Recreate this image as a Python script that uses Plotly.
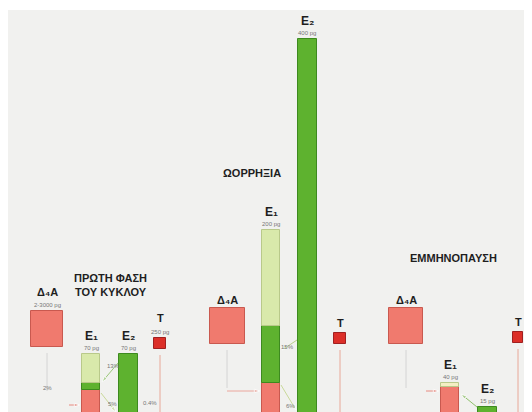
import plotly.graph_objects as go

# --- data (pg) ---
phases = ["ΠΡΩΤΗ ΦΑΣΗ<br>ΤΟΥ ΚΥΚΛΟΥ", "ΩΟΡΡΗΞΙΑ", "ΕΜΜΗΝΟΠΑΥΣΗ"]
e1_total = [70, 200, 40]
e1_from_d4a = [32, 40, 36]   # red part
e1_from_e2 = [8, 60, 0]      # dark green part
e1_other = [30, 100, 4]      # light part
e2_total = [70, 400, 15]
e1_labels = ["70 pg", "200 pg", "40 pg"]
e2_labels = ["70 pg", "400 pg", "15 pg"]
d4a_labels = ["2-3000 pg", "", ""]
t_labels = ["250 pg", "", ""]
pct_labels = [["13%", "5%", "2%", "0.4%"], ["15%", "6%", "", ""], ["", "", "", ""]]

# --- layout (page pixels, screen coords) ---
W, H = 532, 412
OFF = 8  # page body margin
e1_x = [91, 271, 450]
e2_x = [128, 307, 487]
d4a_x = [47, 227, 406]
t_x = [160, 340, 518]
sq_top = [311, 308, 308]
t_top = [338, 333, 332]
title_pos = [(110, 285), (252, 173), (453, 258)]
bar_w = 18
px_per_pg = 0.955
base_px = 421

RED = "#f07a6e"
RED_EDGE = "#c9594f"
LIGHT = "#d9e9ab"
LIGHT_E1_3 = "#f4efc4"
GREEN = "#5eb22f"
GREEN_EDGE = "#3d8a1f"
TRED = "#dc2f28"
GREY_TXT = "#777777"

y_lo = (base_px - H) / px_per_pg
y_hi = (base_px - OFF) / px_per_pg

fig = go.Figure()

# E1 stacked columns
light_cols = [LIGHT, LIGHT, LIGHT_E1_3]
for i in range(3):
    parts = [(e1_from_d4a[i], RED, RED_EDGE), (e1_from_e2[i], GREEN, GREEN_EDGE),
             (e1_other[i], light_cols[i], "#b9c98a")]
    b = 0
    for v, c, ec in parts:
        if v > 0:
            fig.add_trace(go.Bar(x=[e1_x[i]], y=[v], base=[b], width=bar_w,
                                 marker=dict(color=c, line=dict(color=ec, width=1)),
                                 showlegend=False, hoverinfo="skip"))
        b += v
    # E2 column
    fig.add_trace(go.Bar(x=[e2_x[i]], y=[e2_total[i]], base=[0], width=bar_w + 1,
                         marker=dict(color=GREEN, line=dict(color=GREEN_EDGE, width=1)),
                         showlegend=False, hoverinfo="skip"))

# D4A and T squares (on page-pixel axis)
fig.add_trace(go.Bar(x=d4a_x, y=[36] * 3, base=sq_top, width=[32, 35, 34], yaxis="y2",
                     marker=dict(color=RED, line=dict(color=RED_EDGE, width=1)),
                     showlegend=False, hoverinfo="skip"))
fig.add_trace(go.Bar(x=t_x, y=[11] * 3, base=t_top, width=[12, 12, 10], yaxis="y2",
                     marker=dict(color=TRED, line=dict(color="#a02020", width=1)),
                     showlegend=False, hoverinfo="skip"))

# connector lines
for i in range(3):
    fig.add_trace(go.Scatter(x=[t_x[i], t_x[i]], y=[t_top[i] + 17, H], yaxis="y2", mode="lines",
                             line=dict(color="#e8a898", width=1), showlegend=False, hoverinfo="skip"))
    fig.add_trace(go.Scatter(x=[d4a_x[i], d4a_x[i]], y=[sq_top[i] + 42, sq_top[i] + 80], yaxis="y2",
                             mode="lines", line=dict(color="#d4d4d4", width=1),
                             showlegend=False, hoverinfo="skip"))

# E2 -> E1 and D4A -> E1 arrows
arrows = [
    (e2_x[0] - 10, 363, e1_x[0] + 11, 382, "#9bc77a"),
    (e1_x[0] + 10, 393, e2_x[0] - 12, 412, "#c9d99a"),
    (e2_x[1] - 10, 340, e1_x[1] + 11, 350, "#b7cf8a"),
    (e1_x[1] + 10, 385, e2_x[1] - 11, 410, "#c9d99a"),
    (e2_x[2] - 10, 407, e1_x[2] + 11, 394, "#8fc06a"),
    (d4a_x[0] + 22, 405, e1_x[0] - 11, 405, "#e88a80"),
    (d4a_x[1] + 0, 391, e1_x[1] - 11, 391, "#eba69c"),
    (d4a_x[2] + 20, 391, e1_x[2] - 11, 391, "#e88a80"),
]
for x0, y0, x1, y1, c in arrows:
    fig.add_trace(go.Scatter(x=[x0, x1], y=[y0, y1], yaxis="y2", mode="lines+markers",
                             line=dict(color=c, width=1),
                             marker=dict(symbol="arrow", size=[0, 6], angleref="previous", color=c),
                             showlegend=False, hoverinfo="skip"))

annotations = []
bold = dict(family="Liberation Sans, DejaVu Sans, Arial, sans-serif", color="#1e1e1e")
small = dict(family="Liberation Sans, Arial, sans-serif", color=GREY_TXT, size=6)

for i in range(3):
    tx, ty = title_pos[i]
    annotations.append(dict(x=tx, y=ty, xref="x", yref="y2", text="<b>" + phases[i] + "</b>",
                            showarrow=False, font=dict(size=11, **bold), align="center"))
    for xc, v, lab, name in [(e1_x[i], e1_total[i], e1_labels[i], "E₁"),
                             (e2_x[i], e2_total[i], e2_labels[i], "E₂")]:
        annotations.append(dict(x=xc, y=v, xref="x", yref="y", yanchor="bottom", yshift=9,
                                text="<b>" + name + "</b>", showarrow=False, font=dict(size=12, **bold)))
        annotations.append(dict(x=xc, y=v, xref="x", yref="y", yanchor="bottom", yshift=1,
                                text=lab, showarrow=False, font=small))
    annotations.append(dict(x=d4a_x[i], y=sq_top[i], xref="x", yref="y2", yanchor="bottom",
                            yshift=11 if d4a_labels[i] else 0,
                            text="<b>Δ₄A</b>", showarrow=False, font=dict(size=11, **bold)))
    if d4a_labels[i]:
        annotations.append(dict(x=d4a_x[i], y=sq_top[i], xref="x", yref="y2", yanchor="bottom",
                                yshift=1, text=d4a_labels[i], showarrow=False, font=small))
    annotations.append(dict(x=t_x[i], y=t_top[i], xref="x", yref="y2", yanchor="bottom",
                            yshift=12 if t_labels[i] else 2,
                            text="<b>T</b>", showarrow=False, font=dict(size=11, **bold)))
    if t_labels[i]:
        annotations.append(dict(x=t_x[i], y=t_top[i], xref="x", yref="y2", yanchor="bottom",
                                yshift=1, text=t_labels[i], showarrow=False, font=small))

pct_pos = [[(113, 366), (112, 404), (47, 388), (150, 403)],
           [(287, 347), (290, 406), None, None],
           [None, None, None, None]]
for i in range(3):
    for lab, pos in zip(pct_labels[i], pct_pos[i]):
        if lab and pos:
            annotations.append(dict(x=pos[0], y=pos[1], xref="x", yref="y2", text=lab,
                                    showarrow=False, font=small))

fig.update_layout(
    width=W - OFF, height=H - OFF,
    margin=dict(l=0, r=0, t=0, b=0),
    paper_bgcolor="#ffffff",
    plot_bgcolor="rgba(0,0,0,0)",
    barmode="overlay",
    bargap=0,
    annotations=annotations,
    shapes=[dict(type="rect", xref="x", yref="y2", x0=OFF, x1=526, y0=10, y1=H,
                 fillcolor="#f1f1ef", line=dict(width=0), layer="below")],
    xaxis=dict(range=[OFF, W], visible=False, fixedrange=True),
    yaxis=dict(range=[y_lo, y_hi], visible=False, fixedrange=True),
    yaxis2=dict(range=[H, OFF], visible=False, overlaying="y", fixedrange=True),
)

fig.write_html("out.html")
